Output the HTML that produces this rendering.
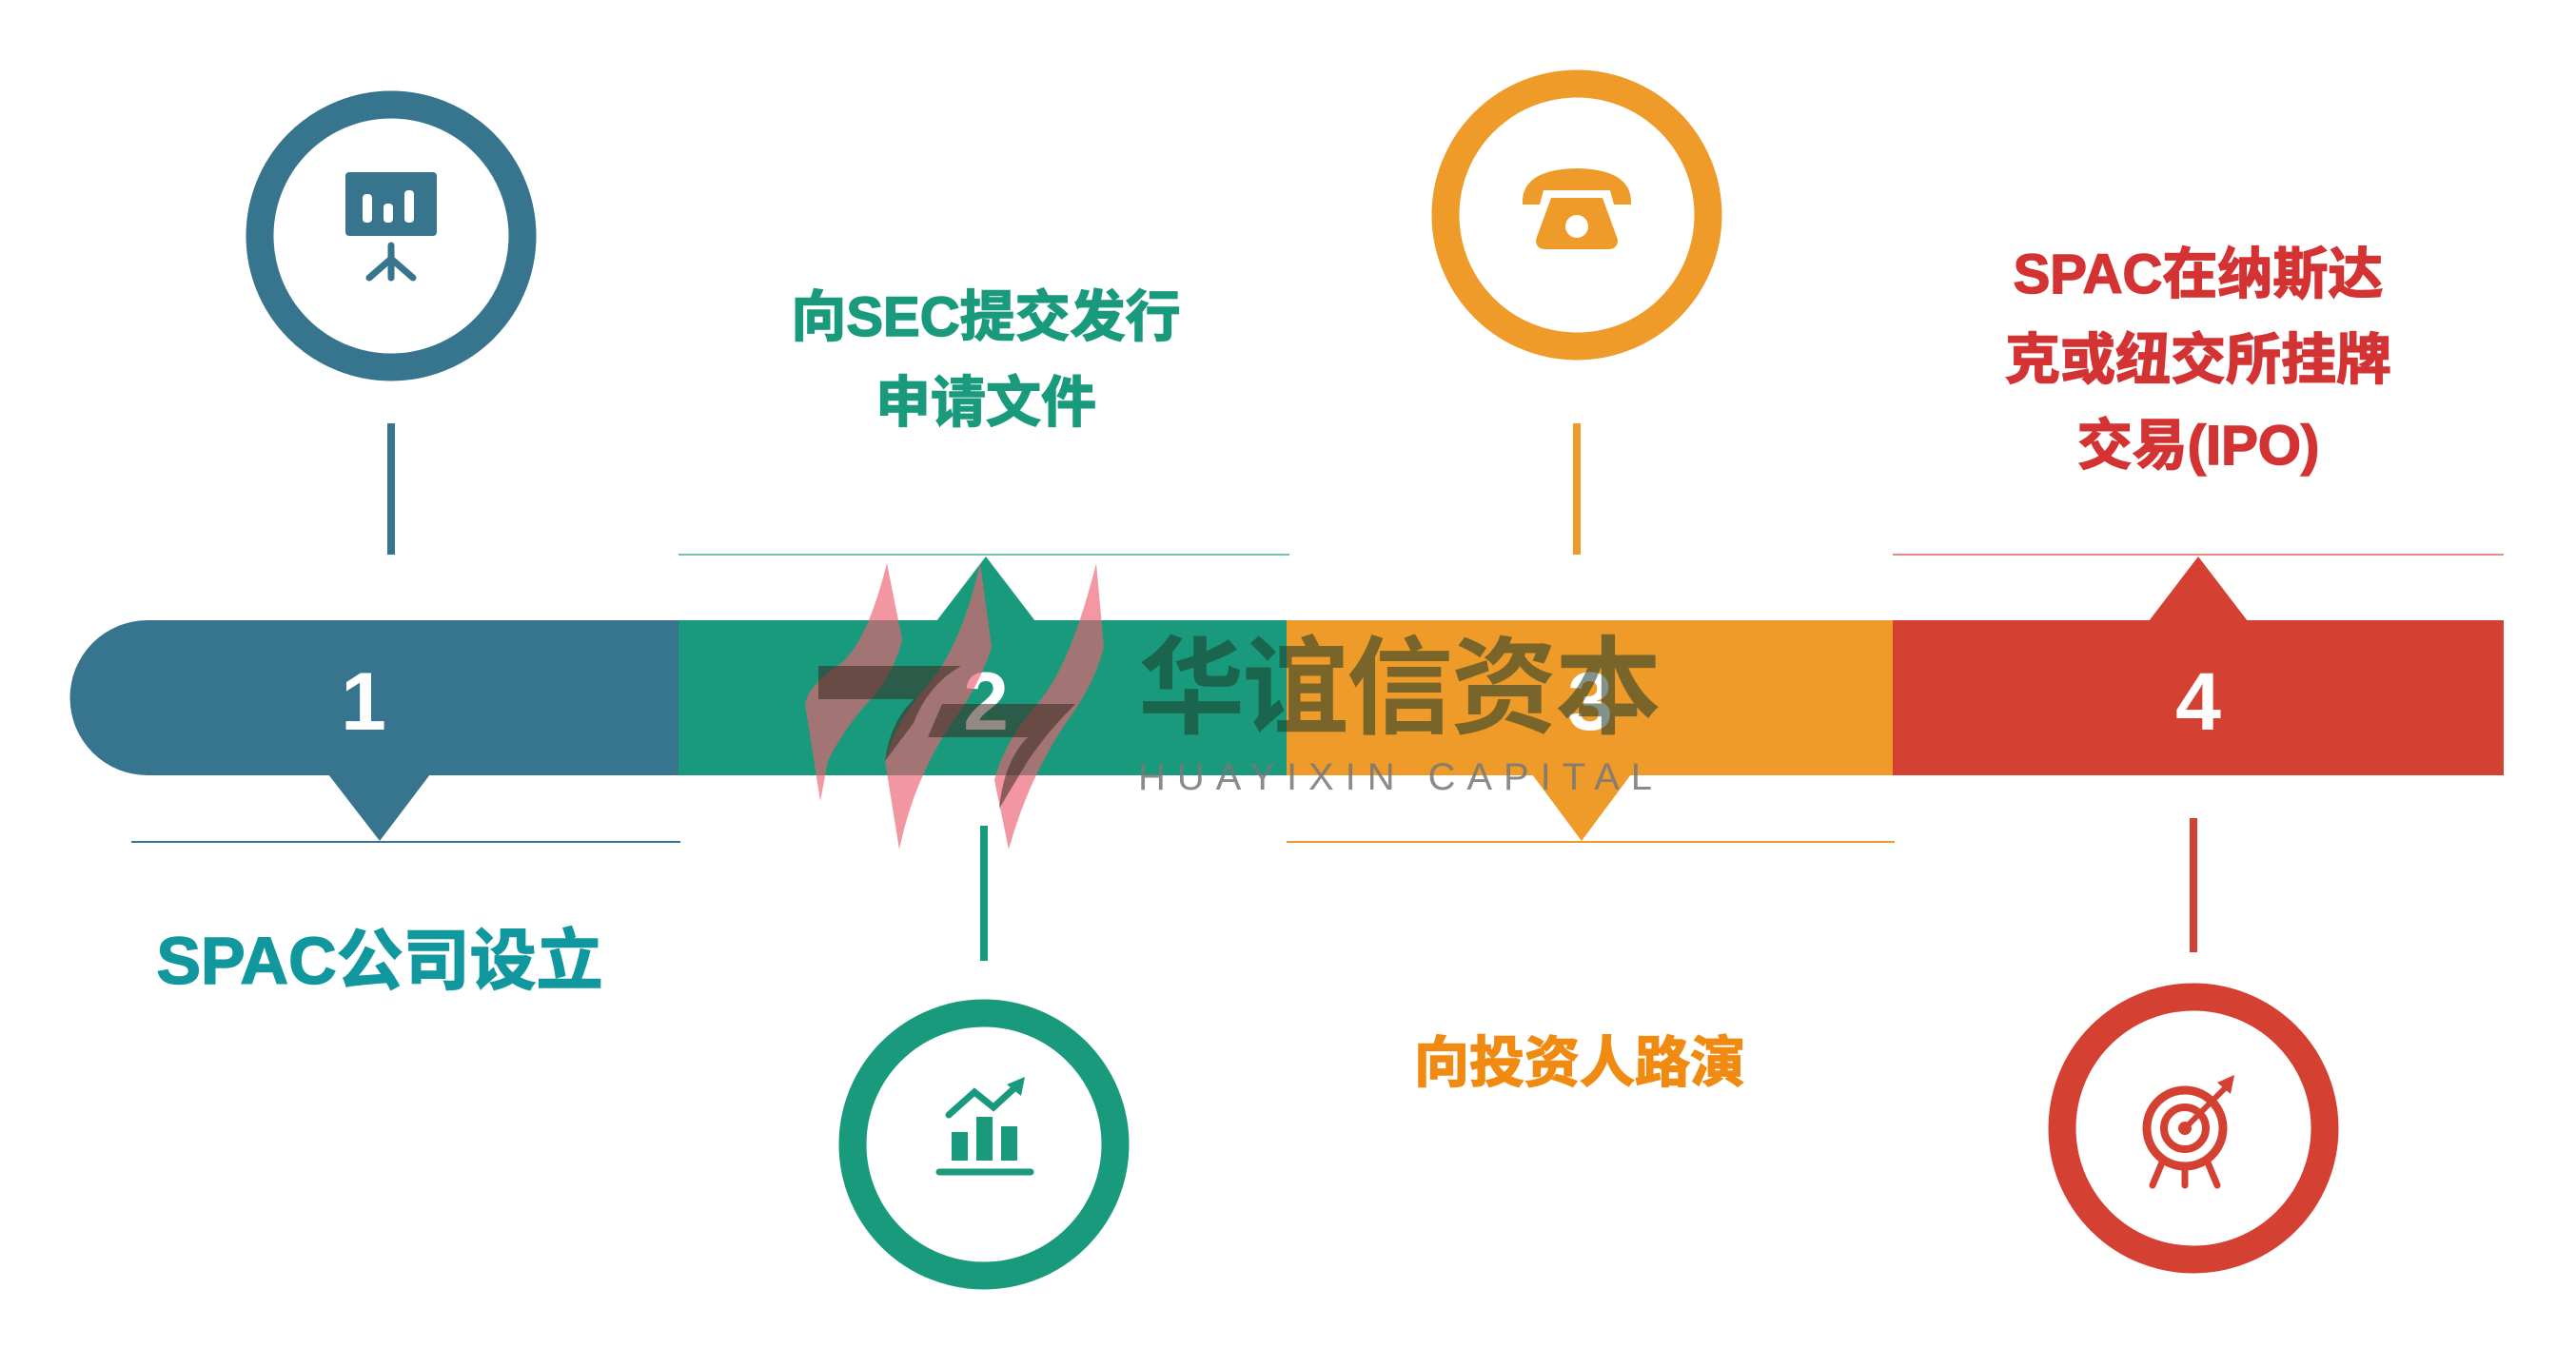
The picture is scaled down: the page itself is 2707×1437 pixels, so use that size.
<!DOCTYPE html>
<html><head><meta charset="utf-8"><style>
html,body{margin:0;padding:0;background:#fff;}
body{width:2707px;height:1437px;position:relative;overflow:hidden;font-family:"Liberation Sans","Noto Sans CJK SC",sans-serif;}
svg{position:absolute;left:0;top:0;}
</style></head><body>
<svg width="2707" height="1437" viewBox="0 0 2707 1437" xmlns="http://www.w3.org/2000/svg">
<line x1="713" y1="583" x2="1355" y2="583" stroke="#1a9a7c" stroke-width="2" opacity="0.6"/>
<line x1="1989" y1="583" x2="2631" y2="583" stroke="#d44133" stroke-width="2" opacity="0.6"/>
<line x1="138" y1="885" x2="715" y2="885" stroke="#37758f" stroke-width="2"/>
<line x1="1352" y1="885" x2="1991" y2="885" stroke="#ee9b2a" stroke-width="2"/>
<path d="M155 652 H713 V815 H155 A81.5 81.5 0 0 1 155 652 Z" fill="#37758f"/>
<rect x="713" y="652" width="639" height="163" fill="#1a9a7c"/>
<rect x="1352" y="652" width="637" height="163" fill="#ee9b2a"/>
<rect x="1989" y="652" width="642" height="163" fill="#d44133"/>
<polygon points="345,814 452,814 399,884" fill="#37758f"/>
<polygon points="984,653 1088,653 1036,585" fill="#1a9a7c"/>
<polygon points="1610,814 1714,814 1662,884" fill="#ee9b2a"/>
<polygon points="2258,653 2362,653 2310,585" fill="#d44133"/>
<g font-family="Liberation Sans,sans-serif" font-weight="bold" font-size="86" fill="#fff" text-anchor="middle">
<text x="382" y="767">1</text><text x="1036" y="767">2</text><text x="1671" y="767">3</text><text x="2310" y="767">4</text>
</g>
<line x1="411" y1="445" x2="411" y2="583" stroke="#37758f" stroke-width="8"/>
<line x1="1034" y1="868" x2="1034" y2="1010" stroke="#1a9a7c" stroke-width="8"/>
<line x1="1657" y1="445" x2="1657" y2="583" stroke="#ee9b2a" stroke-width="8"/>
<line x1="2305" y1="860" x2="2305" y2="1001" stroke="#d44133" stroke-width="8"/>
<circle cx="411" cy="248" r="138" fill="none" stroke="#37758f" stroke-width="29"/>
<circle cx="1034" cy="1203" r="138" fill="none" stroke="#1a9a7c" stroke-width="29"/>
<circle cx="1657" cy="226" r="138" fill="none" stroke="#ee9b2a" stroke-width="29"/>
<circle cx="2305" cy="1186" r="138" fill="none" stroke="#d44133" stroke-width="29"/>
<rect x="363" y="181" width="96" height="67" rx="4" fill="#37758f"/>
<rect x="381" y="204" width="10" height="30" rx="4" fill="#fff"/>
<rect x="403" y="214" width="10" height="20" rx="4" fill="#fff"/>
<rect x="425" y="200" width="10" height="34" rx="4" fill="#fff"/>
<path d="M411 258 V292 M388 292 L411 272 L434 292" stroke="#37758f" stroke-width="7" fill="none" stroke-linecap="round"/>
<rect x="1000" y="1190" width="17" height="30" fill="#1a9a7c"/>
<rect x="1026" y="1174" width="17" height="46" fill="#1a9a7c"/>
<rect x="1052" y="1184" width="17" height="36" fill="#1a9a7c"/>
<line x1="987" y1="1232" x2="1083" y2="1232" stroke="#1a9a7c" stroke-width="7" stroke-linecap="round"/>
<path d="M997 1172 L1024 1148 L1044 1164 L1068 1142" stroke="#1a9a7c" stroke-width="7" fill="none" stroke-linecap="round"/>
<polygon points="1058,1140 1077,1132 1073,1152" fill="#1a9a7c"/>
<path d="M1600 215 Q1598 178 1657 177 Q1716 178 1714 215 L1696 215 L1692 200 L1622 200 L1618 215 Z" fill="#ee9b2a"/>
<path d="M1630 208 L1684 208 L1700 252 Q1700 262 1690 262 L1624 262 Q1614 262 1614 252 Z" fill="#ee9b2a"/>
<circle cx="1657" cy="238" r="12" fill="#fff"/>
<circle cx="2296" cy="1186" r="40" fill="none" stroke="#d44133" stroke-width="9"/>
<circle cx="2296" cy="1186" r="22" fill="none" stroke="#d44133" stroke-width="8"/>
<circle cx="2296" cy="1186" r="7" fill="#d44133"/>
<path d="M2296 1186 L2340 1142" stroke="#d44133" stroke-width="6"/>
<polygon points="2330,1138 2348,1130 2344,1150" fill="#d44133"/>
<path d="M2272 1222 L2262 1246 M2320 1222 L2330 1246 M2296 1228 V1246" stroke="#d44133" stroke-width="7" stroke-linecap="round"/>
<g font-family="Liberation Sans,Noto Sans CJK SC,sans-serif" font-weight="bold" text-anchor="middle" stroke-width="1.5">
<text x="1036" y="353" font-size="58" fill="#1a9a7c" stroke="#1a9a7c">向SEC提交发行</text>
<text x="1036" y="443" font-size="58" fill="#1a9a7c" stroke="#1a9a7c">申请文件</text>
<text x="399" y="1034" font-size="70" fill="#11989f" stroke="#11989f">SPAC公司设立</text>
<text x="1660" y="1137" font-size="58" fill="#f08a10" stroke="#f08a10">向投资人路演</text>
<text x="2310" y="308" font-size="58" fill="#d33333" stroke="#d33333">SPAC在纳斯达</text>
<text x="2310" y="398" font-size="58" fill="#d33333" stroke="#d33333">克或纽交所挂牌</text>
<text x="2310" y="488" font-size="58" fill="#d33333" stroke="#d33333">交易(IPO)</text>
</g>
<!-- watermark logo -->
<g opacity="0.65">
<path d="M932 592 L948 672 Q942 700 920 730 Q890 760 870 800 L862 842 L846 740 Q850 720 880 700 Q910 680 932 592 Z" fill="#ec6070"/>
<path d="M1030 592 L1042 680 Q1030 720 1000 760 Q960 820 945 893 L930 800 Q940 760 975 720 Q1010 680 1030 592 Z" fill="#ec6070"/>
<path d="M1152 592 L1160 680 Q1150 720 1120 760 Q1080 820 1060 893 L1045 820 Q1055 780 1090 740 Q1125 700 1152 592 Z" fill="#ec6070"/>
</g>
<g opacity="0.55">
<path d="M860 700 L1010 700 Q975 720 960 760 L930 800 Q935 760 960 735 L860 735 Z" fill="#3a2a20"/>
<path d="M990 740 L1130 740 Q1100 770 1080 800 L1050 850 Q1055 800 1080 775 L975 775 Z" fill="#3a2a20"/>
</g>
<text x="1196" y="762" font-family="Noto Sans CJK SC,sans-serif" font-weight="bold" font-size="112" fill="#1a3a2a" opacity="0.55" textLength="550">华谊信资本</text>
<text x="1196" y="830" font-family="Liberation Sans,sans-serif" font-size="40" fill="#777" opacity="0.85" textLength="540" lengthAdjust="spacing">HUAYIXIN CAPITAL</text>
</svg>
</body></html>
